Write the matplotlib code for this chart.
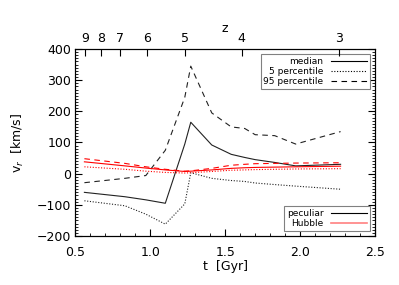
import numpy as np
import matplotlib
matplotlib.use('Agg')
import matplotlib.pyplot as plt
from matplotlib.lines import Line2D
from matplotlib.ticker import MultipleLocator

# tiempos de los snapshots [Gyr]
t = [0.56, 0.83, 0.97, 1.10, 1.23, 1.27, 1.41, 1.54, 1.63, 1.70, 1.83, 1.97, 2.27]

# velocidad peculiar
pec_med = [-60, -74, -84, -95, 95, 165, 92, 62, 52, 45, 36, 25, 30]
pec_p5 = [-87, -103, -130, -162, -97, 3, -15, -22, -25, -30, -35, -40, -50]
pec_p95 = [-29, -15, -6, 75, 245, 345, 195, 150, 145, 125, 122, 95, 135]

# velocidad de Hubble
hub_med = [38, 25, 18, 12, 7, 8, 12, 17, 19, 20, 21, 22, 24]
hub_p5 = [22, 14, 8, 4, 2, 3, 7, 11, 12, 13, 14, 15, 16]
hub_p95 = [48, 33, 22, 14, 8, 9, 17, 27, 30, 32, 33, 34, 35]

# eje superior: redshift
z_lab = ['9', '8', '7', '6', '5', '4', '3']
z_t = [0.563, 0.67, 0.80, 0.98, 1.23, 1.61, 2.26]

plt.rcParams['font.size'] = 9
fig = plt.figure(figsize=(3.99, 2.85), dpi=100)
ax = fig.add_axes([0.189, 0.172, 0.751, 0.656])

ax.plot(t, pec_med, c='#222222', lw=0.8)
ax.plot(t, pec_p5, c='#222222', lw=0.8, ls=(0, (1, 1.5)))
ax.plot(t, pec_p95, c='#222222', lw=0.8, ls=(0, (5, 4)))
ax.plot(t, hub_med, c='red', lw=0.8)
ax.plot(t, hub_p5, c='red', lw=0.8, ls=(0, (1, 1.5)))
ax.plot(t, hub_p95, c='red', lw=0.8, ls=(0, (5, 4)))

ax.set_xlim(0.5, 2.5)
ax.set_ylim(-200, 400)
ax.xaxis.set_major_locator(MultipleLocator(0.5))
ax.xaxis.set_minor_locator(MultipleLocator(0.1))
ax.yaxis.set_major_locator(MultipleLocator(100))
ax.yaxis.set_minor_locator(MultipleLocator(10))
ax.tick_params(which='both', direction='in', right=True, top=False)
ax.tick_params(which='major', length=5, width=0.8)
ax.tick_params(which='minor', length=2.5, width=0.6)
ax.tick_params(axis='x', pad=7)
ax.tick_params(axis='y', pad=3)
ax.set_xticks([0.5, 1.0, 1.5, 2.0, 2.5])
ax.set_xticklabels(['0.5', '1.0', '1.5', '2.0', '2.5'])
ax.set_xlabel("t  [Gyr]", labelpad=1)
ax.set_ylabel("v$_r$  [km/s]", labelpad=8)
for s in ax.spines.values():
    s.set_linewidth(0.8)

ax2 = ax.twiny()
ax2.set_xlim(0.5, 2.5)
ax2.set_xticks(z_t)
ax2.set_xticklabels(z_lab)
ax2.tick_params(direction='in', length=5, width=0.8, pad=3)
ax2.set_xlabel("z", labelpad=0)

h1 = [Line2D([], [], c='k', lw=0.8),
      Line2D([], [], c='k', lw=0.8, ls=(0, (1, 1.5))),
      Line2D([], [], c='k', lw=0.8, ls=(0, (5, 4)))]
leg1 = ax.legend(h1, ['median', '5 percentile', '95 percentile'], loc='upper right',
                 markerfirst=False, fontsize=6.5, fancybox=False, edgecolor='gray',
                 framealpha=1, borderpad=0.3, labelspacing=0.1, handlelength=4,
                 handletextpad=0.8, borderaxespad=0.6)
leg1.get_frame().set_linewidth(0.8)
ax.add_artist(leg1)

h2 = [Line2D([], [], c='k', lw=0.8), Line2D([], [], c='#ff8080', lw=1.2)]
leg2 = ax.legend(h2, ['peculiar', 'Hubble'], loc='lower right',
                 markerfirst=False, fontsize=6.5, fancybox=False, edgecolor='gray',
                 framealpha=1, borderpad=0.3, labelspacing=0.1, handlelength=4,
                 handletextpad=0.8, borderaxespad=0.6)
leg2.get_frame().set_linewidth(0.8)

plt.savefig("out.png", dpi=100)
